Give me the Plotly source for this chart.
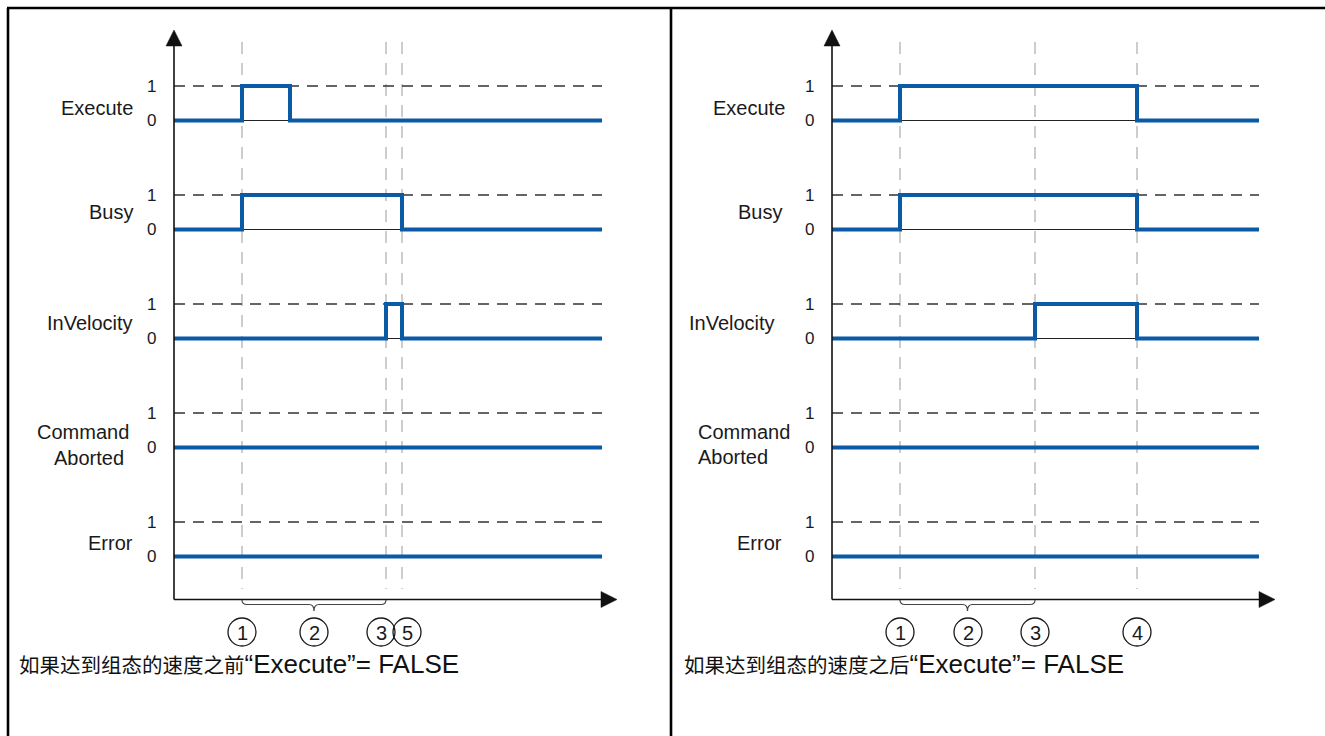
import plotly.graph_objects as go

# ---------------- data ----------------
signal_names = ["Execute", "Busy", "InVelocity", "CommandAborted", "Error"]

# left panel: "Execute" = FALSE before configured velocity is reached
t_left = [0, 6.8, 11.6, 21.2, 22.8, 42.8]
execute_left = [0, 1, 0, 0, 0, 0]
busy_left = [0, 1, 1, 1, 0, 0]
invelocity_left = [0, 0, 0, 1, 0, 0]
cmdaborted_left = [0, 0, 0, 0, 0, 0]
error_left = [0, 0, 0, 0, 0, 0]
events_left = [6.8, 21.2, 22.8]
marker_labels_left = ["1", "2", "3", "5"]
marker_pos_left = [6.8, 14.0, 20.7, 23.3]
brace_left = [6.8, 21.2]
caption_cn_left = "如果达到组态的速度之前"
caption_en_left = "“Execute”= FALSE"

# right panel: "Execute" = FALSE after configured velocity is reached
t_right = [0, 6.8, 20.3, 30.5, 42.7]
execute_right = [0, 1, 1, 0, 0]
busy_right = [0, 1, 1, 0, 0]
invelocity_right = [0, 0, 1, 0, 0]
cmdaborted_right = [0, 0, 0, 0, 0]
error_right = [0, 0, 0, 0, 0]
events_right = [6.8, 20.3, 30.5]
marker_labels_right = ["1", "2", "3", "4"]
marker_pos_right = [6.8, 13.6, 20.3, 30.5]
brace_right = [6.8, 20.3]
caption_cn_right = "如果达到组态的速度之后"
caption_en_right = "“Execute”= FALSE"

# ---------------- layout constants ----------------
W, H = 1325, 736
BLUE = "#0b5aa6"
FONT = "Liberation Sans, Arial, Noto Sans CJK SC"
PX_PER_T = 10.0
ZERO0_PX = 120.5      # pixel row of Execute level 0
LEVEL_PX = 34.5       # pixel height of 0->1
SPACING_PX = 109.0    # pixel spacing between signals
AXIS_BOTTOM = 599.5
AXIS_TOP_TIP = 30
AXIS_RIGHT_TIP = 617 - 174  # relative to axis origin
CIRCLE_Y = 632
CIRCLE_R = 14

panels = [
    dict(origin=174, dom=[0, 0.5], t=t_left,
         sig=[execute_left, busy_left, invelocity_left, cmdaborted_left, error_left],
         events=events_left, mlab=marker_labels_left, mpos=marker_pos_left,
         brace=brace_left, cap=(caption_cn_left, caption_en_left), cap_x=17,
         names=[("Execute", 135, 108, "right"), ("Busy", 135, 212, "right"),
                ("InVelocity", 135, 323, "right"), ("Command", 131, 432, "right"),
                ("Aborted", 126, 458, "right"), ("Error", 135, 543, "right")]),
    dict(origin=832, dom=[0.5, 1], t=t_right,
         sig=[execute_right, busy_right, invelocity_right, cmdaborted_right, error_right],
         events=events_right, mlab=marker_labels_right, mpos=marker_pos_right,
         brace=brace_right, cap=(caption_cn_right, caption_en_right), cap_x=682,
         names=[("Execute", 787, 108, "right"), ("Busy", 784, 212, "right"),
                ("InVelocity", 777, 323, "right"), ("Command", 696, 432, "left"),
                ("Aborted", 696, 457, "left"), ("Error", 784, 543, "right")]),
]


def px(x):
    return x / W


def py(y):
    return 1 - y / H


y_top = ZERO0_PX / LEVEL_PX
y_bot = (ZERO0_PX - H) / LEVEL_PX
base = [-i * SPACING_PX / LEVEL_PX for i in range(len(signal_names))]

fig = go.Figure()
shapes = []
annotations = []

for k, p in enumerate(panels):
    xa = "x" if k == 0 else "x2"
    ya = "y" if k == 0 else "y2"
    dom_px0 = p["dom"][0] * W
    dom_px1 = p["dom"][1] * W
    r0 = (dom_px0 - p["origin"]) / PX_PER_T
    r1 = (dom_px1 - p["origin"]) / PX_PER_T
    axkey = "xaxis" if k == 0 else "xaxis2"
    aykey = "yaxis" if k == 0 else "yaxis2"
    fig.layout[axkey] = dict(domain=p["dom"], range=[r0, r1], visible=False,
                             fixedrange=True, anchor=ya)
    fig.layout[aykey] = dict(domain=[0, 1], range=[y_bot, y_top], visible=False,
                             fixedrange=True, anchor=xa)
    t = p["t"]
    t_end = t[-1]

    # vertical dashed event lines
    for ev in p["events"]:
        shapes.append(dict(type="line", xref=xa, yref="paper", x0=ev, x1=ev,
                           y0=py(42), y1=py(589),
                           line=dict(color="#9a9a9a", width=1, dash="12px,9px"),
                           layer="below"))

    for i, vals in enumerate(p["sig"]):
        b = base[i]
        shapes.append(dict(type="line", xref=xa, yref=ya, x0=0, x1=t_end,
                           y0=b + 1, y1=b + 1,
                           line=dict(color="#333333", width=1.4, dash="11px,8px"),
                           layer="below"))
        fig.add_trace(go.Scatter(x=[0, t_end], y=[b, b], mode="lines",
                                 line=dict(color="#222222", width=1),
                                 xaxis=xa, yaxis=ya, hoverinfo="skip",
                                 showlegend=False))
        fig.add_trace(go.Scatter(x=t, y=[b + v for v in vals], mode="lines",
                                 line=dict(color=BLUE, width=4, shape="hv"),
                                 xaxis=xa, yaxis=ya, hoverinfo="skip",
                                 showlegend=False, name=signal_names[i]))
        lx = p["origin"] - 23
        for lev in (0, 1):
            annotations.append(dict(text=str(lev), xref="paper", yref=ya, x=px(lx), y=b + lev,
                                    showarrow=False, xanchor="center", yanchor="middle",
                                    font=dict(size=17, color="#1a1a1a", family=FONT)))

    for (txt, x, y, anc) in p["names"]:
        annotations.append(dict(text=txt, xref="paper", yref="paper", x=px(x), y=py(y),
                                showarrow=False, xanchor=anc, yanchor="middle",
                                font=dict(size=20, color="#1a1a1a", family=FONT)))

    # axes with arrows
    o = p["origin"]
    shapes.append(dict(type="line", xref="paper", yref="paper",
                       x0=px(o), x1=px(o), y0=py(AXIS_BOTTOM), y1=py(AXIS_TOP_TIP + 14),
                       line=dict(color="#111111", width=1.6)))
    shapes.append(dict(type="path", xref="paper", yref="paper",
                       path=f"M {px(o)},{py(AXIS_TOP_TIP)} L {px(o - 8)},{py(AXIS_TOP_TIP + 16)} "
                            f"L {px(o + 8)},{py(AXIS_TOP_TIP + 16)} Z",
                       fillcolor="#111111", line=dict(color="#111111", width=0.5)))
    xr = o + AXIS_RIGHT_TIP
    shapes.append(dict(type="line", xref="paper", yref="paper",
                       x0=px(o), x1=px(xr - 14), y0=py(AXIS_BOTTOM), y1=py(AXIS_BOTTOM),
                       line=dict(color="#111111", width=1.6)))
    shapes.append(dict(type="path", xref="paper", yref="paper",
                       path=f"M {px(xr)},{py(AXIS_BOTTOM)} L {px(xr - 16)},{py(AXIS_BOTTOM - 8)} "
                            f"L {px(xr - 16)},{py(AXIS_BOTTOM + 8)} Z",
                       fillcolor="#111111", line=dict(color="#111111", width=0.5)))

    # brace
    xa_px = o + p["brace"][0] * PX_PER_T
    xb_px = o + p["brace"][1] * PX_PER_T
    xm_px = (xa_px + xb_px) / 2
    yt, yh, ytip = 600, 604.5, 611
    pts = (f"M {px(xa_px)},{py(yt)} Q {px(xa_px)},{py(yh)} {px(xa_px + 5)},{py(yh)} "
           f"L {px(xm_px - 5)},{py(yh)} Q {px(xm_px)},{py(yh)} {px(xm_px)},{py(ytip)} "
           f"Q {px(xm_px)},{py(yh)} {px(xm_px + 5)},{py(yh)} "
           f"L {px(xb_px - 5)},{py(yh)} Q {px(xb_px)},{py(yh)} {px(xb_px)},{py(yt)}")
    shapes.append(dict(type="path", xref="paper", yref="paper", path=pts,
                       line=dict(color="#444444", width=1.2)))

    # circled numbers
    for lab, tpos in zip(p["mlab"], p["mpos"]):
        cx = o + tpos * PX_PER_T
        shapes.append(dict(type="circle", xref="paper", yref="paper",
                           x0=px(cx - CIRCLE_R), x1=px(cx + CIRCLE_R),
                           y0=py(CIRCLE_Y + CIRCLE_R), y1=py(CIRCLE_Y - CIRCLE_R),
                           line=dict(color="#1a1a1a", width=1.3)))
        annotations.append(dict(text=lab, xref="paper", yref="paper", x=px(cx), y=py(CIRCLE_Y + 1),
                                showarrow=False, xanchor="center", yanchor="middle",
                                font=dict(size=20, color="#1a1a1a", family=FONT)))

    # caption
    cn, en = p["cap"]
    annotations.append(dict(text=f"{cn}<span style='font-size:26px'>{en}</span>",
                            xref="paper", yref="paper",
                            x=px(p["cap_x"]), y=py(664), showarrow=False,
                            xanchor="left", yanchor="middle",
                            font=dict(size=20.5, color="#111111", family=FONT)))

# panel borders
for (x0, y0, x1, y1) in [(7, 8, W, 8), (8, 8, 8, H), (671, 8, 671, H)]:
    shapes.append(dict(type="line", xref="paper", yref="paper",
                       x0=px(x0), y0=py(y0), x1=px(x1), y1=py(y1),
                       line=dict(color="#000000", width=2.6)))

fig.update_layout(width=W, height=H, autosize=False,
                  margin=dict(l=0, r=0, t=0, b=0),
                  paper_bgcolor="white", plot_bgcolor="white",
                  shapes=shapes, annotations=annotations, showlegend=False,
                  font=dict(family=FONT))

fig.write_html("out.html", config={"displayModeBar": False, "staticPlot": True},
               post_script="document.body.style.margin='0px';document.body.style.overflow='hidden';")
